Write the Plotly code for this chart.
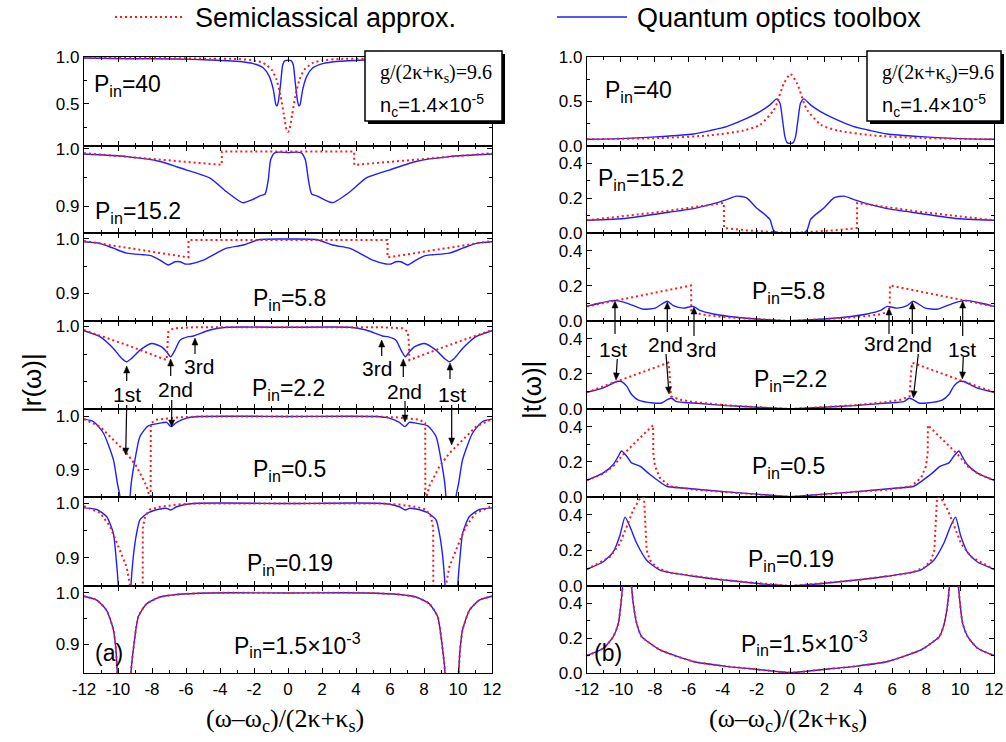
import math
import plotly.graph_objects as go

# ---------------- |r(w)| : reflection spectra, panel (a) ----------------
# "q" = quantum optics toolbox (solid), "s" = semiclassical approximation (dotted)
r40_q_x = [-12, -9.49, -6.55, -4.59, -3.02, -2.04, -1.45, -1.10, -0.86, -0.71, -0.64, -0.57, -0.43, -0.31, -0.18,
           0.18, 0.31, 0.43, 0.57, 0.64, 0.71, 0.86, 1.10, 1.45, 2.04, 3.02, 4.59, 6.55, 9.49, 12]
r40_q_y = [0.989, 0.982, 0.979, 0.968, 0.954, 0.929, 0.882, 0.793, 0.65, 0.49, 0.478, 0.52, 0.721, 0.918, 0.961,
           0.961, 0.918, 0.721, 0.52, 0.478, 0.49, 0.65, 0.793, 0.882, 0.929, 0.954, 0.968, 0.979, 0.982, 0.989]
r40_s_x = [-12, -7.53, -4.59, -3.02, -2.04, -1.45, -0.96, -0.67, -0.43, -0.24, -0.08, 0,
           0.08, 0.24, 0.43, 0.67, 0.96, 1.45, 2.04, 3.02, 4.59, 7.53, 12]
r40_s_y = [0.993, 0.989, 0.982, 0.979, 0.964, 0.936, 0.864, 0.757, 0.579, 0.382, 0.221, 0.2,
           0.221, 0.382, 0.579, 0.757, 0.864, 0.936, 0.964, 0.979, 0.982, 0.989, 0.993]

r152_q_x = [-12, -9.49, -7.53, -5.96, -4.59, -3.61, -2.67, -2.04, -1.65, -1.35, -1.16, -1.02, -0.76, 0,
            0.76, 1.02, 1.2, 1.39, 1.69, 2.08, 2.63, 3.65, 4.59, 5.96, 7.53, 9.49, 12]
r152_q_y = [0.991, 0.9865, 0.978, 0.963, 0.949, 0.925, 0.906, 0.912, 0.918, 0.921, 0.946, 0.981, 0.9935, 0.9935,
            0.9935, 0.981, 0.946, 0.921, 0.918, 0.912, 0.906, 0.925, 0.949, 0.963, 0.978, 0.9865, 0.991]
r152_s_x = [-12, -3.9, -3.89, 3.89, 3.9, 12]
r152_s_y = [0.9925, 0.972, 0.9953, 0.9953, 0.972, 0.9925]

r58_q_x = [-12, -11.06, -10.27, -9.49, -8.51, -8.02, -7.53, -7.04, -6.65, -6.35, -6.06, -5.76, -4.98, -4.2, -3.61,
           -2.63, -1.65, 0, 1.65, 2.63, 3.61, 4.2, 4.98, 5.76, 6.06, 6.35, 6.65, 7.04, 7.53, 8.02, 8.51, 9.49,
           10.27, 11.06, 12]
r58_q_y = [0.995, 0.992, 0.983, 0.974, 0.971, 0.969, 0.961, 0.952, 0.958, 0.958, 0.954, 0.954, 0.961, 0.974, 0.983,
           0.989, 0.999, 1.0, 0.999, 0.989, 0.983, 0.974, 0.961, 0.954, 0.954, 0.958, 0.958, 0.952, 0.961, 0.969,
           0.971, 0.974, 0.983, 0.992, 0.995]
r58_s_x = [-12, -5.86, -5.85, 5.85, 5.86, 12]
r58_s_y = [0.9963, 0.966, 0.998, 0.998, 0.966, 0.9963]

r22_q_x = [-12, -11.06, -10.27, -9.78, -9.49, -9.2, -8.7, -8.02, -7.43, -7.14, -6.9, -6.65, -6.35, -5.86, -5.57,
           -4.59, -3.61, 0, 3.61, 4.59, 5.57, 5.86, 6.35, 6.65, 6.9, 7.14, 7.43, 8.02, 8.7, 9.2, 9.49, 9.78,
           10.27, 11.06, 12]
r22_q_y = [0.9924, 0.9815, 0.960, 0.942, 0.936, 0.942, 0.957, 0.969, 0.963, 0.954, 0.945, 0.957, 0.975, 0.9815,
           0.9827, 0.9936, 0.9985, 0.9985, 0.9985, 0.9936, 0.9827, 0.9815, 0.975, 0.957, 0.945, 0.954, 0.963,
           0.969, 0.957, 0.942, 0.936, 0.942, 0.960, 0.9815, 0.9924]
r22_s_x = [-12, -9.49, -7.14, -7.1, -7.04, -6.75, -5.57, 5.57, 6.75, 7.04, 7.1, 7.14, 9.49, 12]
r22_s_y = [0.9936, 0.9664, 0.939, 0.975, 0.9905, 0.9967, 0.9985, 0.9985, 0.9967, 0.9905, 0.975, 0.939, 0.9664,
           0.9936]

r05_q_x = [-12, -11.45, -10.86, -10.27, -10.04, -9.88, -9.6, -9.29, -9.22, -9.0, -8.71, -8.22, -7.53, -7.14,
           -6.88, -6.55, -5.96, -5.18, 0, 5.18, 5.96, 6.55, 6.88, 7.14, 7.53, 8.22, 8.71, 9.0, 9.22, 9.29, 9.6,
           9.88, 10.04, 10.27, 10.86, 11.45, 12]
r05_q_y = [0.995, 0.9906, 0.969, 0.919, 0.875, 0.849, 0.6, 0.849, 0.875, 0.919, 0.9625, 0.9825, 0.9875, 0.989,
           0.981, 0.989, 0.997, 1.0, 1.0, 1.0, 0.997, 0.989, 0.981, 0.989, 0.9875, 0.9825, 0.9625, 0.919, 0.875,
           0.849, 0.6, 0.849, 0.875, 0.919, 0.969, 0.9906, 0.995]
r05_s_x = [-12, -11.06, -10.08, -9.49, -8.9, -8.31, -8.08, -8.07, -7.73, -6.55, -5.18,
           5.18, 6.55, 7.73, 8.07, 8.08, 8.31, 8.9, 9.49, 10.08, 11.06, 12]
r05_s_y = [0.995, 0.981, 0.95, 0.931, 0.906, 0.869, 0.84, 0.9875, 0.994, 0.998, 1.0,
           1.0, 0.998, 0.994, 0.9875, 0.84, 0.869, 0.906, 0.931, 0.95, 0.981, 0.995]

r019_q_x = [-12, -11.25, -10.67, -10.27, -10.12, -9.98, -9.6, -9.24, -9.1, -8.94, -8.71, -8.22, -7.53, -7.14,
            -6.9, -6.55, -5.57, 0, 5.57, 6.55, 6.9, 7.14, 7.53, 8.22, 8.71, 8.94, 9.1, 9.24, 9.6, 9.98, 10.12,
            10.27, 10.67, 11.25, 12]
r019_q_y = [0.992, 0.989, 0.976, 0.945, 0.902, 0.848, 0.6, 0.848, 0.902, 0.939, 0.970, 0.983, 0.990, 0.991,
            0.988, 0.994, 1.0, 1.0, 1.0, 0.994, 0.988, 0.991, 0.990, 0.983, 0.970, 0.939, 0.902, 0.848, 0.6,
            0.848, 0.902, 0.945, 0.976, 0.989, 0.992]
r019_s_x = [-12, -11.06, -10.47, -9.88, -9.49, -9.29, -9.0, -8.55, -8.54, -8.41, -8.12, -7.53, -6.55, -5.57,
            5.57, 6.55, 7.53, 8.12, 8.41, 8.54, 8.55, 9.0, 9.29, 9.49, 9.88, 10.47, 11.06, 12]
r019_s_y = [0.995, 0.983, 0.958, 0.914, 0.883, 0.848, 0.80, 0.80, 0.955, 0.976, 0.989, 0.994, 0.998, 1.0,
            1.0, 0.998, 0.994, 0.989, 0.976, 0.955, 0.80, 0.80, 0.848, 0.883, 0.914, 0.958, 0.983, 0.995]

r0015_q_x = [-12, -11.25, -10.67, -10.27, -10.12, -10.04, -9.6, -9.24, -9.1, -8.8, -8.31, -7.53, -6.55, -4.59, 0,
             4.59, 6.55, 7.53, 8.31, 8.8, 9.1, 9.24, 9.6, 10.04, 10.12, 10.27, 10.67, 11.25, 12]
r0015_q_y = [0.9935, 0.986, 0.966, 0.928, 0.889, 0.844, 0.5, 0.844, 0.889, 0.954, 0.979, 0.992, 0.997, 1.0, 1.0,
             1.0, 0.997, 0.992, 0.979, 0.954, 0.889, 0.844, 0.5, 0.844, 0.889, 0.928, 0.966, 0.986, 0.9935]
r0015_s_x = [-12, -11.25, -10.67, -10.27, -10.12, -10.04, -9.6, -9.24, -9.1, -8.8, -8.31, -7.53, -6.55, -4.59, 0,
             4.59, 6.55, 7.53, 8.31, 8.8, 9.1, 9.24, 9.6, 10.04, 10.12, 10.27, 10.67, 11.25, 12]
r0015_s_y = [0.9935, 0.986, 0.966, 0.928, 0.889, 0.844, 0.5, 0.844, 0.889, 0.954, 0.979, 0.992, 0.997, 1.0, 1.0,
             1.0, 0.997, 0.992, 0.979, 0.954, 0.889, 0.844, 0.5, 0.844, 0.889, 0.928, 0.966, 0.986, 0.9935]

# ---------------- |t(w)| : transmission spectra, panel (b) ----------------
t40_q_x = [-12, -9.66, -7.7, -5.73, -4.75, -3.77, -2.79, -1.8, -1.21, -0.82, -0.62, -0.47, -0.33, -0.2, 0,
           0.16, 0.3, 0.44, 0.59, 0.79, 1.18, 1.77, 2.75, 3.74, 4.72, 5.7, 7.67, 9.63, 12]
t40_q_y = [0.075, 0.086, 0.105, 0.135, 0.173, 0.218, 0.293, 0.387, 0.462, 0.53, 0.481, 0.293, 0.105, 0.038, 0.03,
           0.038, 0.105, 0.293, 0.481, 0.53, 0.462, 0.387, 0.293, 0.218, 0.173, 0.135, 0.105, 0.086, 0.075]
t40_s_x = [-12, -7.7, -4.75, -2.79, -1.8, -1.0, -0.8, -0.4, 0, 0.4, 0.8, 1.0, 1.8, 2.79, 4.75, 7.7, 12]
t40_s_y = [0.075, 0.09, 0.12, 0.173, 0.237, 0.40, 0.48, 0.70, 0.808, 0.70, 0.48, 0.40, 0.237, 0.173, 0.12, 0.09,
           0.075]

t152_q_x = [-12, -9.66, -7.7, -5.73, -4.75, -3.77, -3.18, -2.59, -2.0, -1.51, -1.21, -1.02, -0.86, 0,
            0.83, 0.99, 1.18, 1.48, 1.97, 2.56, 3.15, 3.74, 4.72, 5.7, 7.67, 9.63, 12]
t152_q_y = [0.073, 0.085, 0.112, 0.140, 0.163, 0.192, 0.212, 0.202, 0.144, 0.106, 0.077, 0.019, 0.004, 0.002,
            0.004, 0.019, 0.077, 0.106, 0.144, 0.202, 0.212, 0.192, 0.163, 0.140, 0.112, 0.085, 0.073]
t152_s_x = [-12, -7.7, -3.93, -3.92, -2.59, 0, 2.59, 3.92, 3.93, 7.7, 12]
t152_s_y = [0.073, 0.121, 0.173, 0.029, 0.015, 0.0, 0.015, 0.029, 0.173, 0.121, 0.073]

t58_q_x = [-12, -11.23, -10.35, -9.66, -8.68, -7.99, -7.27, -6.91, -6.32, -5.73, -5.34, -4.55, -3.18, -1.8, 0,
           1.77, 3.15, 4.52, 5.31, 5.7, 6.29, 6.88, 7.23, 7.96, 8.65, 9.63, 10.32, 11.2, 12]
t58_q_y = [0.083, 0.102, 0.117, 0.102, 0.067, 0.073, 0.112, 0.087, 0.073, 0.083, 0.06, 0.04, 0.021, 0.01, 0.002,
           0.01, 0.021, 0.04, 0.06, 0.083, 0.073, 0.087, 0.112, 0.073, 0.067, 0.102, 0.117, 0.102, 0.083]
t58_s_x = [-12, -5.86, -5.85, -5.14, -3.77, -1.8, 0, 1.8, 3.77, 5.14, 5.85, 5.86, 12]
t58_s_y = [0.083, 0.202, 0.054, 0.035, 0.021, 0.01, 0.0, 0.01, 0.021, 0.035, 0.054, 0.202, 0.083]

t22_q_x = [-12, -11.04, -10.25, -9.96, -9.66, -9.37, -8.97, -8.09, -7.6, -7.27, -7.01, -6.72, -5.73, -3.77, -1.8,
           0, 1.77, 3.74, 5.7, 6.68, 6.98, 7.23, 7.57, 8.06, 8.94, 9.34, 9.63, 9.93, 10.22, 11.0, 12]
t22_q_y = [0.095, 0.12, 0.156, 0.156, 0.13, 0.082, 0.05, 0.034, 0.034, 0.053, 0.061, 0.042, 0.034, 0.019, 0.0095,
           0.002, 0.0095, 0.019, 0.034, 0.042, 0.061, 0.053, 0.034, 0.034, 0.05, 0.082, 0.13, 0.156, 0.156, 0.12,
           0.095]
t22_s_x = [-12, -9.66, -7.21, -7.15, -7.05, -6.52, -5.73, -3.77, 0, 3.74, 5.7, 6.49, 7.02, 7.12, 7.18, 9.63, 12]
t22_s_y = [0.095, 0.177, 0.263, 0.225, 0.072, 0.053, 0.04, 0.021, 0.0, 0.021, 0.04, 0.053, 0.072, 0.225, 0.263,
           0.177, 0.095]

t05_q_x = [-12, -11.04, -10.45, -10.15, -9.96, -9.66, -9.37, -8.88, -8.29, -7.3, -6.32, -3.77, -1.8, 0,
           1.77, 3.74, 6.29, 7.27, 8.26, 8.84, 9.34, 9.63, 9.93, 10.12, 10.42, 11.0, 12]
t05_q_y = [0.095, 0.137, 0.185, 0.232, 0.261, 0.232, 0.194, 0.175, 0.128, 0.061, 0.051, 0.029, 0.015, 0.002,
           0.015, 0.029, 0.051, 0.061, 0.128, 0.175, 0.194, 0.232, 0.261, 0.232, 0.185, 0.137, 0.095]
t05_s_x = [-12, -11.04, -10.45, -9.86, -9.07, -8.1, -8.09, -7.99, -7.7, -7.11, -5.73, -3.77, 0,
           3.77, 5.73, 7.11, 7.7, 7.99, 8.09, 8.1, 9.07, 9.86, 10.45, 11.04, 12]
t05_s_y = [0.095, 0.133, 0.175, 0.242, 0.318, 0.408, 0.251, 0.175, 0.109, 0.061, 0.042, 0.029, 0.0,
           0.029, 0.042, 0.061, 0.109, 0.175, 0.251, 0.408, 0.318, 0.242, 0.175, 0.133, 0.095]

t019_q_x = [-12, -11.04, -10.45, -10.05, -9.76, -9.47, -9.07, -8.48, -7.7, -5.73, -3.77, -1.8, 0,
            1.77, 3.74, 5.7, 7.67, 8.45, 9.04, 9.43, 9.73, 10.02, 10.42, 11.0, 12]
t019_q_y = [0.094, 0.136, 0.192, 0.287, 0.387, 0.334, 0.24, 0.145, 0.089, 0.055, 0.032, 0.013, 0.002,
            0.013, 0.032, 0.055, 0.089, 0.145, 0.24, 0.334, 0.387, 0.287, 0.192, 0.136, 0.094]
t019_s_x = [-12, -10.64, -10.05, -9.66, -9.27, -8.92, -8.78, -8.64, -8.56, -8.48, -8.29, -7.89, -7.11, -5.73,
            -3.77, 0, 3.77, 5.73, 7.11, 7.89, 8.29, 8.48, 8.56, 8.64, 8.78, 8.92, 9.27, 9.66, 10.05, 10.64, 12]
t019_s_y = [0.094, 0.164, 0.24, 0.334, 0.428, 0.485, 0.5, 0.497, 0.353, 0.2, 0.145, 0.104, 0.074, 0.055,
            0.032, 0.0, 0.032, 0.055, 0.074, 0.104, 0.145, 0.2, 0.353, 0.497, 0.5, 0.485, 0.428, 0.334, 0.24,
            0.164, 0.094]

t0015_q_x = [-12, -11.04, -10.45, -10.15, -10.0, -9.9, -9.62, -9.37, -9.27, -9.07, -8.78, -8.29, -7.7, -5.73,
             -3.77, -1.8, 0, 1.8, 3.77, 5.73, 7.7, 8.29, 8.78, 9.07, 9.27, 9.37, 9.62, 9.9, 10.0, 10.15, 10.45,
             11.04, 12]
t0015_q_y = [0.1, 0.142, 0.209, 0.285, 0.398, 0.5, 0.9, 0.5, 0.398, 0.285, 0.209, 0.171, 0.133, 0.066,
             0.038, 0.019, 0.002, 0.019, 0.038, 0.066, 0.133, 0.171, 0.209, 0.285, 0.398, 0.5, 0.9, 0.5, 0.398,
             0.285, 0.209, 0.142, 0.1]
t0015_s_x = [-12, -11.04, -10.45, -10.15, -10.0, -9.9, -9.62, -9.37, -9.27, -9.07, -8.78, -8.29, -7.7, -5.73,
             -3.77, -1.8, 0, 1.8, 3.77, 5.73, 7.7, 8.29, 8.78, 9.07, 9.27, 9.37, 9.62, 9.9, 10.0, 10.15, 10.45,
             11.04, 12]
t0015_s_y = [0.1, 0.142, 0.209, 0.285, 0.398, 0.5, 0.9, 0.5, 0.398, 0.285, 0.209, 0.171, 0.133, 0.066,
             0.038, 0.019, 0.002, 0.019, 0.038, 0.066, 0.133, 0.171, 0.209, 0.285, 0.398, 0.5, 0.9, 0.5, 0.398,
             0.285, 0.209, 0.142, 0.1]

# axis tick values
x_ticks = [-12, -10, -8, -6, -4, -2, 0, 2, 4, 6, 8, 10, 12]
x_tick_text = ["-12", "-10", "-8", "-6", "-4", "-2", "0", "2", "4", "6", "8", "10", "12"]
x_minor = [-11, -9, -7, -5, -3, -1, 1, 3, 5, 7, 9, 11]

power_labels = ["P<sub>in</sub>=40", "P<sub>in</sub>=15.2", "P<sub>in</sub>=5.8", "P<sub>in</sub>=2.2",
                "P<sub>in</sub>=0.5", "P<sub>in</sub>=0.19", "P<sub>in</sub>=1.5\u00d710<sup>-3</sup>"]

# ---------------- figure geometry (pixels) ----------------
W, H = 1006, 742
ROW_EDGES = [57, 146, 233, 321, 409, 497, 586, 673]
COL_EDGES = [(84, 492), (587, 994)]


def fx(p):
    return p / W


def fy(p):
    return 1 - p / H


BLUE = "rgb(30,30,255)"
RED = "rgb(255,25,25)"
SANS = "Liberation Sans, Arial, Helvetica, sans-serif"
SERIF = "Liberation Serif, Times New Roman, serif"

left_series = [
    (r40_q_x, r40_q_y, r40_s_x, r40_s_y),
    (r152_q_x, r152_q_y, r152_s_x, r152_s_y),
    (r58_q_x, r58_q_y, r58_s_x, r58_s_y),
    (r22_q_x, r22_q_y, r22_s_x, r22_s_y),
    (r05_q_x, r05_q_y, r05_s_x, r05_s_y),
    (r019_q_x, r019_q_y, r019_s_x, r019_s_y),
    (r0015_q_x, r0015_q_y, r0015_s_x, r0015_s_y),
]
right_series = [
    (t40_q_x, t40_q_y, t40_s_x, t40_s_y),
    (t152_q_x, t152_q_y, t152_s_x, t152_s_y),
    (t58_q_x, t58_q_y, t58_s_x, t58_s_y),
    (t22_q_x, t22_q_y, t22_s_x, t22_s_y),
    (t05_q_x, t05_q_y, t05_s_x, t05_s_y),
    (t019_q_x, t019_q_y, t019_s_x, t019_s_y),
    (t0015_q_x, t0015_q_y, t0015_s_x, t0015_s_y),
]

# y-axis setup per row: (range, major ticks, major labels, minor ticks)
left_axes = [
    ([0.05, 1.0], [0.5, 1.0], ["0.5", "1.0"], [0.25, 0.75]),
    ([0.853, 1.005], [0.9, 1.0], ["0.9", "1.0"], [0.95]),
    ([0.849, 1.011], [0.9, 1.0], ["0.9", "1.0"], [0.95]),
    ([0.85, 1.01], [1.0], ["1.0"], [0.9, 0.95]),
    ([0.849, 1.014], [0.9, 1.0], ["0.9", "1.0"], [0.95]),
    ([0.848, 1.012], [0.9, 1.0], ["0.9", "1.0"], [0.95]),
    ([0.844, 1.0135], [0.9, 1.0], ["0.9", "1.0"], [0.95]),
]
right_axes = [([0, 1.0], [0, 0.5, 1.0], ["0.0", "0.5", "1.0"], [0.25, 0.75])] + \
             [([0, 0.5], [0, 0.2, 0.4], ["0.0", "0.2", "0.4"], [0.1, 0.3]) for _ in range(6)]

# semiclassical curves that are smooth (drawn as splines); the others contain jumps
smooth_red = {(0, 0), (0, 6), (1, 0), (1, 6)}

fig = go.Figure()
layout = dict(
    template="none",
    width=W, height=H, autosize=False,
    margin=dict(l=0, r=0, t=0, b=0, pad=0, autoexpand=False),
    paper_bgcolor="white", plot_bgcolor="white", showlegend=False,
    font=dict(family=SANS, size=17, color="black"),
)

k = 0
for col, (series, axes_cfg) in enumerate([(left_series, left_axes), (right_series, right_axes)]):
    x0, x1 = COL_EDGES[col]
    for row in range(7):
        k += 1
        xs = "" if k == 1 else str(k)
        qx, qy, sx, sy = series[row]
        yr, yt, ytt, ym = axes_cfg[row]
        bottom = row == 6
        layout["xaxis" + xs] = dict(
            domain=[fx(x0), fx(x1)], range=[-12, 12], anchor="y" + xs, automargin=False,
            tickmode="array", tickvals=x_ticks, ticktext=x_tick_text,
            ticks="inside", ticklen=5, tickwidth=1, tickcolor="black",
            minor=dict(tickvals=x_minor, ticks="inside", ticklen=3, tickwidth=1, tickcolor="black"),
            showline=True, linecolor="black", linewidth=1.3, mirror="ticks",
            showgrid=False, zeroline=False, showticklabels=bottom,
            tickfont=dict(size=17, family=SANS),
        )
        layout["yaxis" + xs] = dict(
            domain=[fy(ROW_EDGES[row + 1]), fy(ROW_EDGES[row])], range=yr, anchor="x" + xs, automargin=False,
            tickmode="array", tickvals=yt, ticktext=ytt,
            ticks="inside", ticklen=5, tickwidth=1, tickcolor="black",
            minor=dict(tickvals=ym, ticks="inside", ticklen=3, tickwidth=1, tickcolor="black"),
            showline=True, linecolor="black", linewidth=1.3, mirror="ticks",
            showgrid=False, zeroline=False,
            tickfont=dict(size=17, family=SANS),
        )
        fig.add_trace(go.Scatter(
            x=qx, y=qy, mode="lines", xaxis="x" + xs, yaxis="y" + xs,
            line=dict(color=BLUE, width=1.4, shape="spline", smoothing=0.6),
            name="Quantum optics toolbox", hoverinfo="skip"))
        red_shape = dict(shape="spline", smoothing=0.6) if (col, row) in smooth_red else dict(shape="linear")
        fig.add_trace(go.Scatter(
            x=sx, y=sy, mode="lines", xaxis="x" + xs, yaxis="y" + xs,
            line=dict(color=RED, width=2, dash="2px,3px", **red_shape),
            name="Semiclassical approx.", hoverinfo="skip"))

annotations = []
shapes = []


def text(x, y, s, size, xanchor="center", yanchor="middle", family=SANS, angle=0):
    annotations.append(dict(
        x=fx(x), y=fy(y), xref="paper", yref="paper", text=s, showarrow=False,
        xanchor=xanchor, yanchor=yanchor, textangle=angle,
        font=dict(size=size, family=family, color="black")))


def arrow(hx, hy, tx, ty, head_len=7.0, head_half=3.0):
    """Thin black arrow from tail (tx, ty) to head (hx, hy), pixel coordinates."""
    dx, dy = hx - tx, hy - ty
    n = math.hypot(dx, dy)
    ux, uy = dx / n, dy / n
    bx, by = hx - ux * head_len, hy - uy * head_len
    px_, py_ = -uy * head_half, ux * head_half
    shapes.append(dict(type="line", xref="paper", yref="paper",
                       x0=fx(tx), y0=fy(ty), x1=fx(bx), y1=fy(by),
                       line=dict(color="black", width=1.2)))
    path = "M {:.5f},{:.5f} L {:.5f},{:.5f} L {:.5f},{:.5f} Z".format(
        fx(hx), fy(hy), fx(bx + px_), fy(by + py_), fx(bx - px_), fy(by - py_))
    shapes.append(dict(type="path", xref="paper", yref="paper", path=path,
                       fillcolor="black", line=dict(color="black", width=0.5)))


# power labels
left_label_pos = [(92, 85, "left"), (93, 213, "left"), (289, 299, "center"), (288, 389, "center"),
                  (289, 470, "center"), (290, 564, "center"), (297, 645, "center")]
right_label_pos = [(603, 92, "left"), (596, 179, "left"), (788, 292, "center"), (790, 380, "center"),
                   (788, 467, "center"), (791, 560, "center"), (804, 643, "center")]
for lab, (x, y, a) in zip(power_labels, left_label_pos):
    text(x, y, lab, 23, xanchor=a)
for lab, (x, y, a) in zip(power_labels, right_label_pos):
    text(x, y, lab, 23, xanchor=a)

text(109, 653, "(a)", 23)
text(608, 653, "(b)", 23)

# parameter boxes with drop shadow
for bx0, bx1 in [(365, 502), (867, 1001)]:
    shapes.append(dict(type="rect", xref="paper", yref="paper", x0=fx(bx0 + 3), x1=fx(bx1 + 3),
                       y0=fy(124), y1=fy(54), fillcolor="black", line=dict(width=0)))
    shapes.append(dict(type="rect", xref="paper", yref="paper", x0=fx(bx0), x1=fx(bx1),
                       y0=fy(121), y1=fy(51), fillcolor="white", line=dict(color="black", width=1.5)))
    text(bx0 + 13, 73, "g/(2\u03ba+\u03ba<sub>s</sub>)=9.6", 20, xanchor="left", family=SERIF)
    text(bx0 + 13, 106, "n<sub>c</sub>=1.4\u00d710<sup>-5</sup>", 20, xanchor="left")

# legend
shapes.append(dict(type="line", xref="paper", yref="paper", x0=fx(115), x1=fx(185), y0=fy(17), y1=fy(17),
                   line=dict(color=RED, width=2, dash="2px,3px")))
text(193, 18, "Semiclassical approx.", 27, xanchor="left")
shapes.append(dict(type="line", xref="paper", yref="paper", x0=fx(557), x1=fx(627), y0=fy(17), y1=fy(17),
                   line=dict(color=BLUE, width=1.4)))
text(635, 18, "Quantum optics toolbox", 27, xanchor="left")

# axis titles
text(32, 383, "|r(\u03c9)|", 26, angle=-90)
text(532, 390, "|t(\u03c9)|", 26, angle=-90)
text(285, 720, "(\u03c9\u2013\u03c9<sub>c</sub>)/(2\u03ba+\u03ba<sub>s</sub>)", 26, family=SERIF)
text(788, 720, "(\u03c9\u2013\u03c9<sub>c</sub>)/(2\u03ba+\u03ba<sub>s</sub>)", 26, family=SERIF)

# order labels of the resonance dips / peaks, panel (a)
text(127, 394, "1st", 21)
text(175, 389, "2nd", 21)
text(199, 366, "3rd", 21)
text(377, 368, "3rd", 21)
text(404, 391, "2nd", 21)
text(452, 394, "1st", 21)
arrow(126.7, 366, 126.7, 381)
arrow(125.7, 455, 126.7, 405)
arrow(170.7, 359, 170.7, 376)
arrow(171.7, 427, 171.7, 400)
arrow(195, 338, 195, 354)
arrow(381.7, 340, 381.7, 356)
arrow(403.3, 359, 403.3, 377)
arrow(405, 422, 405, 401)
arrow(450, 363, 450, 379)
arrow(451.7, 445, 451.7, 405)

# order labels, panel (b)
text(613, 349, "1st", 21)
text(665, 344, "2nd", 21)
text(701, 349, "3rd", 21)
text(879, 343, "3rd", 21)
text(914, 344, "2nd", 21)
text(962, 349, "1st", 21)
arrow(615, 301, 615, 334)
arrow(667.3, 302, 667.3, 332)
arrow(694, 307, 694, 336)
arrow(889, 308, 889, 334)
arrow(912.3, 302, 912.3, 334)
arrow(962.7, 301, 962.7, 336)
arrow(616, 380, 617.3, 359)
arrow(669, 394, 666, 354)
arrow(913.3, 398, 918.3, 354)
arrow(962.3, 379, 963.3, 357)

layout["annotations"] = annotations
layout["shapes"] = shapes
fig.update_layout(**layout)
fig.write_html("out.html")
